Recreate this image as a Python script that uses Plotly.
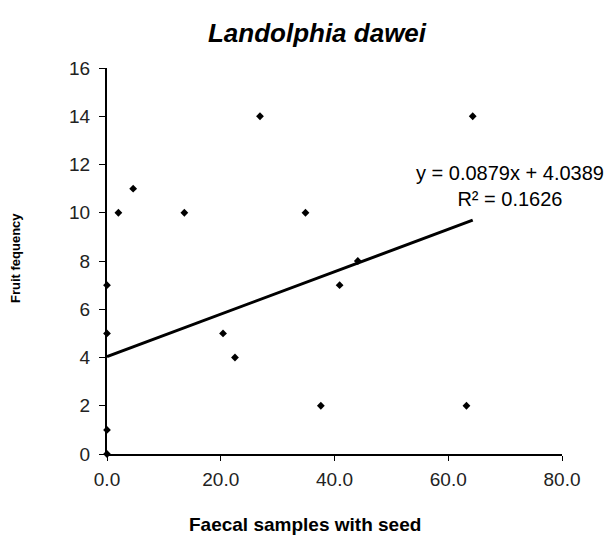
import plotly.graph_objects as go

# Data
faecal_samples = [0.0, 0.0, 0.0, 0.0, 2.0, 4.6, 13.6, 20.4, 22.5, 26.9,
                  34.9, 37.6, 40.9, 44.1, 63.2, 64.3]
fruit_frequency = [0, 1, 5, 7, 10, 11, 10, 5, 4, 14,
                   10, 2, 7, 8, 2, 14]

slope = 0.0879
intercept = 4.0389
r_squared = 0.1626

x_ticks = [0, 20, 40, 60, 80]
x_tick_labels = ["0.0", "20.0", "40.0", "60.0", "80.0"]
y_ticks = [0, 2, 4, 6, 8, 10, 12, 14, 16]

trend_x = [0.0, max(faecal_samples)]
trend_y = [slope * v + intercept for v in trend_x]

font = "Liberation Sans, Arial, sans-serif"

W, H = 612, 536
L, R, T, B = 107, 50, 68, 82
PW, PH = W - L - R, H - T - B


def px(xp):
    return (xp - L) / PW


def py(yp):
    return (H - B - yp) / PH


fig = go.Figure()
fig.add_trace(go.Scatter(
    x=trend_x, y=trend_y, mode="lines",
    line=dict(color="black", width=3), showlegend=False, hoverinfo="skip"))
fig.add_trace(go.Scatter(
    x=faecal_samples, y=fruit_frequency, mode="markers",
    marker=dict(symbol="diamond", size=6, color="black"),
    showlegend=False, cliponaxis=False))

fig.update_layout(
    width=W, height=H,
    margin=dict(l=L, r=R, t=T, b=B),
    paper_bgcolor="white", plot_bgcolor="white",
    font=dict(family=font, color="black"),
    title=dict(text="<b><i>Landolphia dawei</i></b>", x=px(317), xref="paper",
               xanchor="center", y=1 - 33 / H, yanchor="middle",
               font=dict(size=26, family=font, color="black")),
    xaxis=dict(range=[0, 80], tickvals=x_ticks, ticktext=x_tick_labels,
               showgrid=False, zeroline=False, showline=True, linecolor="black",
               linewidth=1.5, ticks="outside", ticklen=5, tickcolor="black",
               ticklabelstandoff=2,
               tickfont=dict(size=19, family=font, color="#222")),
    yaxis=dict(range=[0, 16], tickvals=y_ticks,
               showgrid=False, zeroline=False, showline=True, linecolor="black",
               linewidth=2, ticks="outside", ticklen=6, tickcolor="black",
               ticklabelstandoff=5,
               tickfont=dict(size=19, family=font, color="#222")),
)

# Axis titles
fig.add_annotation(
    x=px(305), y=py(524), xref="paper", yref="paper",
    text="<b>Faecal samples with seed</b>", showarrow=False,
    xanchor="center", yanchor="middle",
    font=dict(size=19, family=font, color="black"))
fig.add_annotation(
    x=px(15), y=py(258), xref="paper", yref="paper",
    text="<b>Fruit fequency</b>", showarrow=False, textangle=-90,
    xanchor="center", yanchor="middle",
    font=dict(size=13, family=font, color="black"))

# Trendline equation
fig.add_annotation(
    x=px(510), y=py(186), xref="paper", yref="paper",
    text=f"y = {slope}x + {intercept}<br>R² = {r_squared}",
    showarrow=False, align="center", xanchor="center", yanchor="middle",
    font=dict(size=20, family=font, color="black"))

fig.write_html("out.html")
